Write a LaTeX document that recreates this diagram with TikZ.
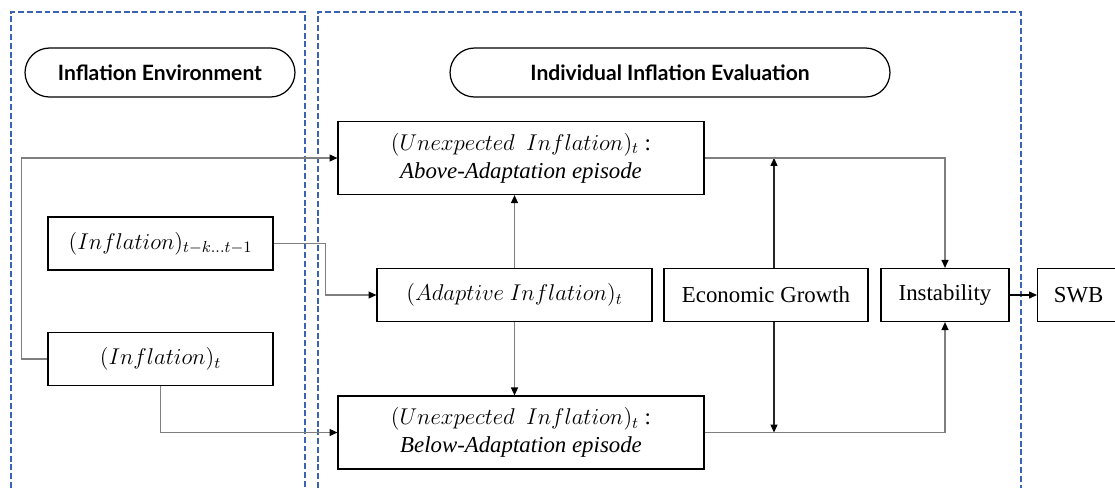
\RequirePackage{fix-cm}
\documentclass[tikz,border=0pt]{standalone}
\usepackage{fontspec}
\setmainfont{Liberation Serif}
\newfontfamily\headfont{Lato}
\usetikzlibrary{arrows.meta}
\definecolor{panelblue}{HTML}{3B63B3}
\definecolor{linkgray}{HTML}{7F7F7F}

\begin{document}
\begin{tikzpicture}[x=0.02cm,y=-0.02cm,
      box/.style={draw,line width=0.7pt,minimum height=1.06cm,inner sep=2pt,
        font=\fontsize{13}{16}\selectfont},
      pill/.style={draw,line width=0.7pt,rounded corners=0.49cm,minimum height=0.98cm,
        font=\headfont\bfseries\fontsize{12}{14}\selectfont},
      panel/.style={panelblue,line width=0.9pt,dash pattern=on 3.4pt off 1.6pt},
      link/.style={linkgray,line width=0.6pt,-{Triangle[black,length=4.5pt,width=4pt]}},
      growthlink/.style={link,black!85}]
      \clip (0,0) rectangle (1115,488);
      \draw[panel] (11,488) |- (305,12) -- (305,488);
      \draw[panel] (318,488) |- (1021,12) -- (1021,488);
      \node[pill,minimum width=5.4cm] (envhead) at (160,72.5) {Inflation Environment};
      \node[pill,minimum width=8.8cm] (evalhead) at (670,72.5) {Individual Inflation Evaluation};
      \node[box,minimum width=4.5cm] (laginf) at (160.5,243.5) {$(Inflation)_{t-k\ldots t-1}$};
      \node[box,minimum width=4.5cm] (curinf) at (160.5,359) {$(Inflation)_t$};
      \node[box,minimum width=5.5cm] (adapt) at (514.5,295) {$(Adaptive\ Inflation)_t$};
      \node[box,minimum width=7.32cm,minimum height=1.46cm,align=center] (above) at (521,158)
        {$(Unexpected\ \ Inflation)_t$ :\\ \textit{Above-Adaptation episode}};
      \node[box,minimum width=7.32cm,minimum height=1.46cm,align=center] (below) at (521,432.5)
        {$(Unexpected\ \ Inflation)_t$ :\\ \textit{Below-Adaptation episode}};
      \node[box,minimum width=4.08cm] (growth) at (766,295) {Economic Growth};
      \node[box,minimum width=2.56cm] (instab) at (945,295) {Instability};
      \node[box,minimum width=1.64cm,anchor=west] (swb) at (1037,295) {SWB};
      \draw[link] (curinf.west) -- ++(-26,0) |- (above.west);
      \draw[link] (laginf.east) -- ++(52,0) |- (adapt.west);
      \draw[link] (curinf.south) |- (below.west);
      \draw[link] (adapt.north) -- (adapt.north |- above.south);
      \draw[link] (adapt.south) -- (adapt.south |- below.north);
      \draw[growthlink] ([xshift=0.16cm]growth.north) -- ([xshift=0.16cm]growth.north |- above.east);
      \draw[growthlink] ([xshift=0.16cm]growth.south) -- ([xshift=0.16cm]growth.south |- below.east);
      \draw[link] (above.east) -| (instab.north);
      \draw[link] (below.east) -| (instab.south);
      \draw[link,black] (instab.east) -- (swb.west);
    \end{tikzpicture}
\end{document}
